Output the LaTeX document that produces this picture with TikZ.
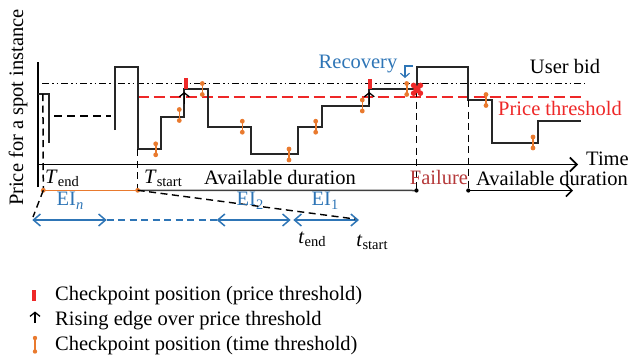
\documentclass[tikz,border=0pt]{standalone}
\usepackage{fontspec}
\setmainfont{Liberation Serif}
\usetikzlibrary{arrows.meta}
\definecolor{cblue}{RGB}{46,117,182}
\definecolor{corange}{RGB}{233,122,46}
\definecolor{cred}{RGB}{238,40,40}
\definecolor{cfail}{RGB}{181,57,58}
\definecolor{cgray}{RGB}{64,64,64}
\newcommand\mysub[1]{\raisebox{-3.5pt}{\fontsize{14.5}{15}\selectfont #1}}
\begin{document}
\begin{tikzpicture}[x=1pt,y=-1pt,
  every node/.style={font=\fontsize{20.5}{24}\selectfont, inner sep=0pt},
  lbl/.style={anchor=base},
  sig/.style={line width=1.7pt, black!85},
  axisline/.style={line width=1.6pt, -{Straight Barb[length=7pt,width=14pt]}},
  vdash/.style={line width=1.5pt, dash pattern=on 7pt off 4.5pt},
  bid/.style={line width=1.4pt, dash pattern=on 7pt off 3pt on 1.5pt off 3pt on 1.5pt off 3pt},
  thr/.style={line width=1.5pt, cred, dash pattern=on 11pt off 5pt},
  eiarrow/.style={line width=1.5pt, cblue, {Straight Barb[length=7pt,width=12pt]}-{Straight Barb[length=7pt,width=12pt]}},
  rise/.style={line width=1.3pt, -{Straight Barb[length=4pt,width=10pt]}},
  ckpt/.pic={\draw[corange, line width=1.6pt] (0,-5.5) -- (0,5.5);
             \fill[corange] (0,-5.5) circle (2.4pt) (0,5.5) circle (2.4pt);},
  redmark/.style={fill=cred, draw=none}
]
\useasboundingbox (0,0) rectangle (633,362);

% axes
\coordinate (yb) at (37.7,187);
\coordinate (yt) at (37.7,62);
\coordinate (x0) at (37.7,164.5);
\coordinate (x1) at (578,164.5);
\draw[line width=1.6pt] (yb) -- (yt);
\draw[axisline] (x0) -- (x1);
\node[anchor=base west] (time) at (586,165) {Time};
\node[rotate=90] (ylab) at (18,107.5) {Price for a spot instance};

% user bid and threshold lines
\coordinate (b0) at (42,83.3);
\coordinate (b1) at (585,83.3);
\draw[bid] (b0) -- (b1);
\coordinate (t0) at (137.7,97);
\coordinate (t1) at (582,97);
\draw[thr] (t0) -- (t1);
\node[lbl] (userbid) at (565,73.3) {User bid};
\node[lbl, text=cred] (pthr) at (560,115) {Price threshold};

% price signal
\draw[sig] (37.7,94) -- (49.3,94) -- (49.3,143);
\draw[line width=1.5pt, dash pattern=on 8pt off 5pt] (54,116) -- (110.7,116);
\draw[sig] (115,130) -- (115,66.7) -- (137.7,66.7) -- (137.7,149.3) -- (161,149.3)
  -- (161,116.7) -- (184.3,116.7) -- (184.3,89.3) -- (207.7,89.3) -- (207.7,127.3)
  -- (250.7,127.3) -- (250.7,154.3) -- (297.7,154.3) -- (297.7,127.3) -- (321.7,127.3)
  -- (321.7,105.7) -- (369.3,105.7) -- (369.3,89.3) -- (416.7,89.3) -- (416.7,66.7)
  -- (468.3,66.7) -- (468.3,100) -- (491.7,100) -- (491.7,142.7) -- (538.3,142.7)
  -- (538.3,121) -- (581,121);

% vertical dashed guides
\coordinate (tend) at (43.3,190.3);
\coordinate (tstart) at (137.7,190.3);
\coordinate (fail) at (416.5,190.5);
\coordinate (avail) at (468.3,190.5);
\draw[vdash] (42.9,94) -- (tend);
\draw[vdash] (137.7,149.3) -- (tstart);
\draw[vdash] (416.5,90) -- (fail);
\draw[vdash] (468.3,100) -- (avail);

% rising edges
\draw[rise] (184.3,104) -- (184.3,92);
\draw[rise] (369.3,104) -- (369.3,92);

% price-threshold checkpoints
\fill[redmark] (183.7,78.3) rectangle (187.9,89.3);
\fill[redmark] (368,79.3) rectangle (372.2,88.8);

% time-threshold checkpoints
\foreach \px/\py in {155.7/149.3, 179.3/115, 202.3/89, 242.3/126.7, 289/154.5,
                     315.7/126.7, 362.3/105.5, 406.7/89, 486/100, 533/142.5}
  \pic at (\px,\py) {ckpt};

% failure blob
\fill[cred] (417,89.3) circle (3.6pt)
  (413.6,85.4) circle (2.8pt) (420.4,85.4) circle (2.8pt)
  (413.6,93.2) circle (2.8pt) (420.4,93.2) circle (2.8pt);

% recovery
\node[lbl, text=cblue] (recov) at (358,68.3) {Recovery};
\coordinate (rc0) at (413,66);
\coordinate (rc1) at (405,66);
\coordinate (rc2) at (405,78);
\draw[cblue, line width=1.2pt, -{Straight Barb[length=4pt,width=9pt]}] (rc0) -- (rc1) -- (rc2);

% timeline labels
\node[lbl] (Tend) at (62,183) {\textit{T}\mysub{end}};
\node[lbl] (Tstart) at (163,183) {\textit{T}\mysub{start}};
\node[lbl] (av1) at (280,184.5) {Available duration};
\node[lbl, text=cfail] (failure) at (439,184.5) {Failure};
\node[lbl] (av2) at (552,185.5) {Available duration};

% timeline lines
\draw[corange, line width=1.5pt] (tend) -- (tstart);
\draw[cgray, line width=1.5pt] (tstart) -- (fail);
\fill[corange] (tend) circle (2.4pt) (tstart) circle (2.4pt);
\fill[black] (fail) circle (2.1pt) (avail) circle (2.1pt);
\coordinate (avend) at (573,190.5);
\draw[line width=1.5pt, -{Straight Barb[length=6pt,width=12pt]}] (avail) -- (avend);

% execution intervals
\coordinate (ein0) at (32.3,220);
\coordinate (ein1) at (106.7,220);
\coordinate (ei20) at (216.7,220);
\coordinate (ei21) at (290.7,220);
\coordinate (ei10) at (293.3,220);
\coordinate (ei11) at (359,220);
\draw[eiarrow] (ein0) -- (ein1);
\draw[cblue, line width=1.5pt, dash pattern=on 7pt off 4.5pt] (ein1) -- (ei20);
\draw[eiarrow] (ei20) -- (ei21);
\draw[eiarrow] (ei10) -- (ei11);
\coordinate (dl) at (33,217);
\coordinate (dr) at (355,219);
\draw[line width=1.4pt, dash pattern=on 7pt off 4.5pt] (tend) -- (dl);
\draw[line width=1.4pt, dash pattern=on 7pt off 4.5pt] (tstart) -- (dr);
\node[lbl, text=cblue] (EIn) at (70,205.5) {EI\mysub{\textit{n}}};
\node[lbl, text=cblue] (EI2) at (250,205.5) {EI\mysub{2}};
\node[lbl, text=cblue] (EI1) at (325,205.5) {EI\mysub{1}};
\node[lbl] (tsend) at (312,243.3) {\textit{t}\mysub{end}};
\node[lbl] (tsstart) at (372,246) {\textit{t}\mysub{start}};

% legend
\fill[redmark] (32.3,290) rectangle (36.3,300.7);
\coordinate (la0) at (35,323);
\coordinate (la1) at (35,311.5);
\draw[line width=1.3pt, -{Straight Barb[length=4pt,width=10pt]}] (la0) -- (la1);
\draw[corange, line width=1.6pt] (35,338) -- (35,351.5);
\fill[corange] (35,338) circle (2.2pt) (35,351.5) circle (2.2pt);
\node[anchor=base west] (leg1) at (55,300) {Checkpoint position (price threshold)};
\node[anchor=base west] (leg2) at (55,325) {Rising edge over price threshold};
\node[anchor=base west] (leg3) at (55,350) {Checkpoint position (time threshold)};
\end{tikzpicture}
\end{document}
